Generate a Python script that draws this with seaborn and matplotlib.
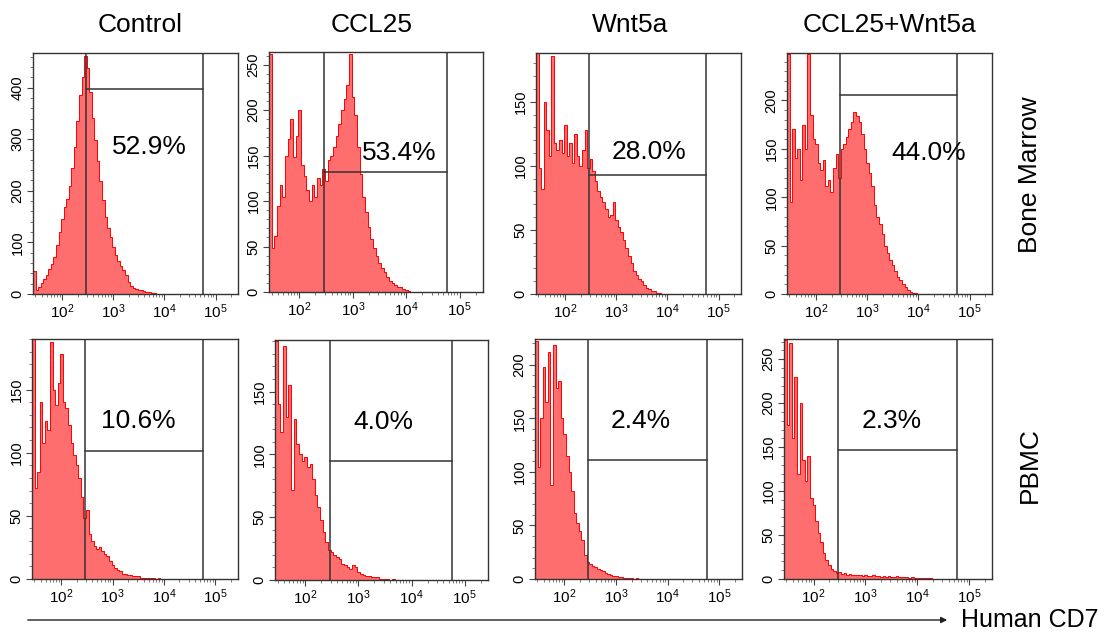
import numpy as np
import matplotlib
matplotlib.use("Agg")
import matplotlib.pyplot as plt
import matplotlib.patches as mpatches
from matplotlib.ticker import MultipleLocator, LogLocator
import seaborn as sns

# flow histograms of human CD7, counts per log10 bin (bin width 0.05, first edge at 10^1.43)
treatments = ["Control", "CCL25", "Wnt5a", "CCL25+Wnt5a"]
tissues = ["Bone Marrow", "PBMC"]

bm_control = [45, 8, 14, 22, 30, 36, 48, 58, 72, 95, 120, 145, 168, 185, 210, 245, 285, 335,
              385, 420, 462, 438, 392, 342, 298, 258, 218, 182, 150, 128, 110, 92, 76, 64, 54,
              46, 36, 24, 16, 12, 10, 8, 7, 5, 4, 3, 2, 1]
bm_ccl25 = [262, 48, 62, 95, 118, 105, 150, 168, 190, 148, 172, 200, 140, 128, 112, 100, 118,
            104, 125, 118, 135, 122, 145, 150, 160, 172, 185, 200, 212, 228, 262, 215, 195, 160,
            130, 105, 88, 72, 58, 48, 40, 32, 26, 22, 16, 12, 10, 8, 6, 5, 3, 2, 1]
bm_wnt5a = [188, 98, 82, 150, 128, 108, 186, 118, 112, 120, 110, 132, 108, 118, 102, 125, 108,
            100, 112, 128, 98, 105, 96, 88, 80, 76, 72, 66, 60, 62, 72, 58, 52, 48, 42, 36, 30,
            24, 18, 15, 12, 10, 7, 5, 4, 2, 2, 1, 1]
bm_combo = [248, 95, 170, 140, 150, 118, 175, 150, 248, 185, 160, 155, 135, 128, 138, 112, 118,
            105, 130, 145, 120, 150, 155, 162, 170, 178, 188, 184, 178, 165, 150, 135, 125, 112,
            92, 80, 72, 62, 50, 42, 35, 30, 24, 18, 14, 10, 7, 4, 2, 1, 1]
pb_control = [190, 72, 85, 140, 108, 125, 118, 188, 150, 138, 155, 178, 140, 135, 122, 108, 98,
              90, 80, 65, 48, 55, 36, 30, 26, 24, 25, 22, 20, 18, 14, 11, 9, 7, 6, 4, 4, 3, 3, 2,
              2, 2, 1, 1, 1, 1, 1, 1, 0, 1]
pb_ccl25 = [190, 140, 118, 186, 130, 155, 72, 128, 108, 100, 95, 98, 90, 92, 80, 68, 58, 48, 38,
            30, 24, 22, 20, 18, 17, 13, 12, 10, 9, 12, 10, 6, 5, 4, 3, 3, 2, 2, 2, 1, 1, 1, 1, 0, 1]
pb_wnt5a = [222, 105, 150, 198, 165, 212, 88, 218, 178, 185, 150, 135, 115, 100, 82, 62, 52, 45,
            36, 22, 16, 14, 12, 11, 9, 8, 7, 6, 5, 4, 3, 3, 2, 2, 1, 1, 1, 1, 0, 1]
pb_combo = [272, 175, 268, 160, 230, 120, 200, 135, 112, 140, 92, 84, 66, 52, 42, 30, 22, 16, 11,
            9, 7, 8, 6, 7, 5, 6, 4, 5, 4, 4, 3, 4, 3, 3, 4, 3, 3, 2, 3, 2, 3, 2, 2, 3, 2, 2, 2, 2,
            1, 2, 1, 1, 1, 1, 1, 1, 1]

counts = [bm_control, bm_ccl25, bm_wnt5a, bm_combo, pb_control, pb_ccl25, pb_wnt5a, pb_combo]
percents = ["52.9%", "53.4%", "28.0%", "44.0%", "10.6%", "4.0%", "2.4%", "2.3%"]
y_max = [467, 264, 188, 249, 190, 191, 224, 273]
y_step = [100, 50, 50, 50, 50, 50, 50, 50]
gate_height = [398, 132, 93, 206, 101, 95, 111, 147]
gate_lo, gate_hi = 290, 58000

bin_start, bin_width = 1.43, 0.05

sns.set_theme(style="ticks")
plt.rcParams["font.family"] = ["Liberation Sans", "DejaVu Sans"]
plt.rcParams["text.color"] = "black"
plt.rcParams["xtick.color"] = "black"
plt.rcParams["ytick.color"] = "black"

W, H = 1107, 634
fig = plt.figure(figsize=(W / 100, H / 100), dpi=100)

# axes boxes in pixels: left, top, right, bottom
boxes = [(33, 53, 238, 294), (269, 52, 483, 292), (536, 53, 741, 294), (787, 53, 992, 294),
         (32, 339, 238, 579), (275, 340, 488, 580), (535, 339, 742, 579), (784, 339, 992, 579)]
text_pos = [(0.57, 0.61), (0.61, 0.58), (0.55, 0.59), (0.69, 0.585),
            (0.515, 0.66), (0.51, 0.66), (0.51, 0.66), (0.52, 0.66)]

for i, c in enumerate(counts):
    l, t, r, b = boxes[i]
    ax = fig.add_axes([l / W, 1 - b / H, (r - l) / W, (b - t) / H])
    n = len(c)
    x = 10 ** (bin_start + bin_width * (np.arange(n) + 0.5))
    sns.histplot(x=x, weights=c, binwidth=bin_width,
                 binrange=(bin_start, bin_start + bin_width * n),
                 log_scale=True, element="step", fill=True, ax=ax,
                 facecolor="#ff6e6e", edgecolor="#ff0000", linewidth=0.7, alpha=1)
    ax.set_xlim(10 ** 1.43, 10 ** 5.44)
    ax.set_ylim(0, y_max[i])
    ax.set_xlabel("")
    ax.set_ylabel("")

    # gate
    ax.axvline(gate_lo, color="#333333", lw=1.1)
    ax.axvline(gate_hi, color="#333333", lw=1.1)
    ax.plot([gate_lo, gate_hi], [gate_height[i]] * 2, color="#333333", lw=1.1)
    ax.text(*text_pos[i], percents[i], transform=ax.transAxes, ha="center", va="center",
            fontsize=19, color="black")

    ax.set_xticks([1e2, 1e3, 1e4, 1e5])
    ax.xaxis.set_minor_locator(LogLocator(base=10, subs=np.arange(2, 10)))
    ax.yaxis.set_major_locator(MultipleLocator(y_step[i]))
    ax.yaxis.set_minor_locator(MultipleLocator(y_step[i] / 5))
    ax.tick_params(axis="both", which="major", direction="out", length=4, width=0.8,
                   color="#444444", pad=2)
    ax.tick_params(axis="both", which="minor", direction="out", length=2.5, width=0.6,
                   color="#666666")
    ax.tick_params(axis="x", labelsize=11, labelcolor="black")
    ax.tick_params(axis="y", labelsize=10.5, labelcolor="black")
    for lab in ax.get_yticklabels():
        lab.set_rotation(90)
        lab.set_va("center")
    for s in ax.spines.values():
        s.set_visible(True)
        s.set_color("#333333")
        s.set_linewidth(1.0)

title_x = [140, 372, 630, 889]
for name, px in zip(treatments, title_x):
    fig.text(px / W, 1 - 25 / H, name, ha="center", va="center", fontsize=19)

fig.text(1030 / W, 1 - 175 / H, tissues[0], rotation=90, ha="center", va="center", fontsize=19)
fig.text(1030 / W, 1 - 465 / H, tissues[1], rotation=90, ha="center", va="center", fontsize=19)

fig.add_artist(mpatches.FancyArrowPatch((25 / W, 1 - 620 / H), (950 / W, 1 - 620 / H),
                                        transform=fig.transFigure, arrowstyle="-|>",
                                        mutation_scale=9, lw=1, color="#222222"))
fig.text(1030 / W, 1 - 620 / H, "Human CD7", ha="center", va="center", fontsize=18)

fig.savefig("out.png", dpi=100)
